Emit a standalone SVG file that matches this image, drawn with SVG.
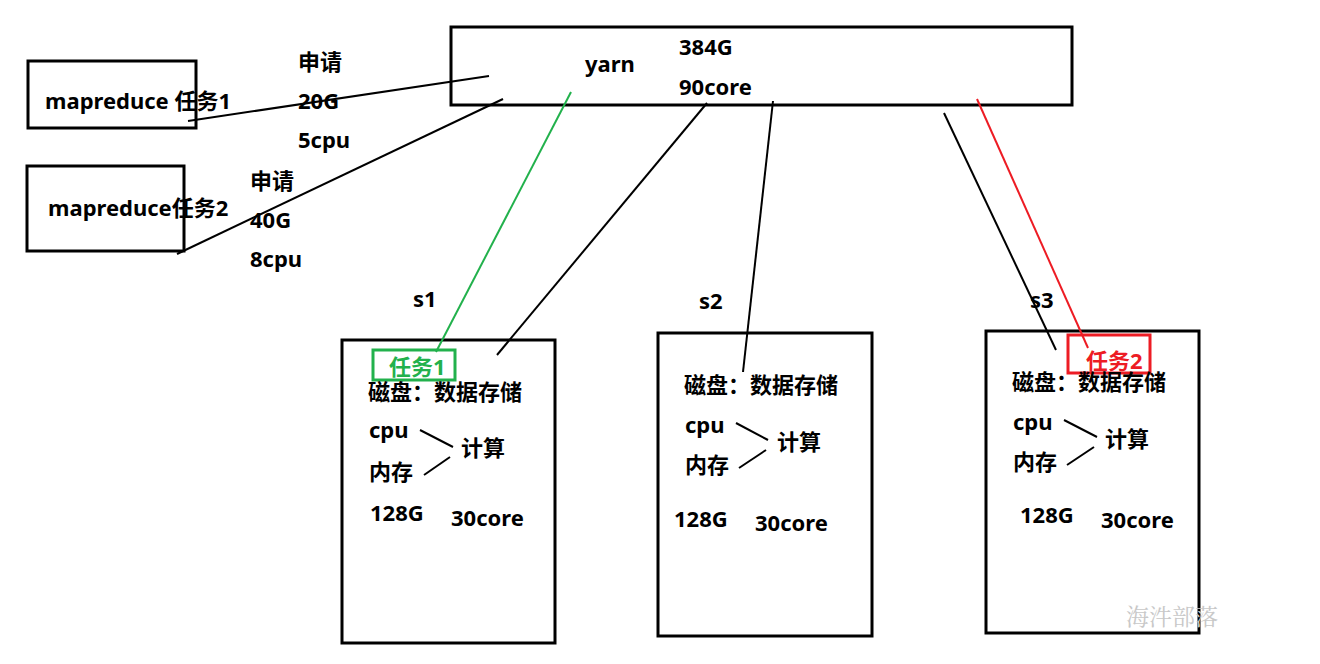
<svg xmlns="http://www.w3.org/2000/svg" width="1320" height="664" viewBox="0 0 1320 664">
<style>
text{font-family:"Noto Sans","Noto Sans CJK SC",sans-serif;font-weight:bold;font-size:22px;fill:#000}
.box{fill:none;stroke:#000;stroke-width:3}
.ln{stroke:#000;stroke-width:2;fill:none}
.g{stroke:#22b14c}
.r{stroke:#ed1c24}
.wm{font-family:"Liberation Serif","Noto Serif CJK SC","Noto Sans CJK SC",serif;font-weight:normal;font-size:23px;fill:#c8c8c8}
</style>
<rect width="1320" height="664" fill="#fff"/>
<g id="task1">
<rect class="box" x="28" y="61" width="168" height="67"/>
<text x="45" y="109">mapreduce 任务1</text>
</g>
<g id="task2">
<rect class="box" x="27" y="166" width="157" height="85"/>
<text x="48" y="216">mapreduce任务2</text>
</g>
<g id="req1">
<text x="298" y="70">申请</text>
<text x="298" y="109">20G</text>
<text x="298" y="148">5cpu</text>
</g>
<g id="req2">
<text x="250" y="189">申请</text>
<text x="250" y="228">40G</text>
<text x="250" y="267">8cpu</text>
</g>
<g id="yarn">
<rect class="box" x="451" y="27" width="621" height="78"/>
<text x="585" y="72">yarn</text>
<text x="679" y="55">384G</text>
<text x="679" y="95">90core</text>
</g>
<g id="s1">
<text x="413" y="307">s1</text>
<rect class="box" x="342" y="340" width="213" height="303"/>
<rect class="box g" x="373" y="350" width="82" height="30" style="stroke:#22b14c"/>
<text x="389" y="375" style="fill:#22b14c">任务1</text>
<text x="368" y="400">磁盘：数据存储</text>
<text x="369" y="438">cpu</text>
<text x="369" y="480">内存</text>
<text x="461" y="456">计算</text>
<line class="ln" x1="420" y1="430" x2="453" y2="447"/>
<line class="ln" x1="424" y1="475" x2="450" y2="457"/>
<text x="370" y="521">128G</text>
<text x="451" y="526">30core</text>
</g>
<g id="s2">
<text x="699" y="309">s2</text>
<rect class="box" x="658" y="333" width="214" height="303"/>
<text x="684" y="393">磁盘：数据存储</text>
<text x="685" y="433">cpu</text>
<text x="685" y="473">内存</text>
<text x="777" y="450">计算</text>
<line class="ln" x1="736" y1="423" x2="768" y2="440"/>
<line class="ln" x1="739" y1="468" x2="766" y2="450"/>
<text x="674" y="527">128G</text>
<text x="755" y="531">30core</text>
</g>
<g id="s3">
<text x="1030" y="308">s3</text>
<rect class="box" x="986" y="331" width="213" height="302"/>
<rect class="box" x="1068" y="335" width="82" height="38" style="stroke:#ed1c24"/>
<text x="1086" y="369" style="fill:#ed1c24">任务2</text>
<text x="1012" y="390">磁盘：数据存储</text>
<text x="1013" y="430">cpu</text>
<text x="1013" y="470">内存</text>
<text x="1105" y="447">计算</text>
<line class="ln" x1="1064" y1="420" x2="1097" y2="437"/>
<line class="ln" x1="1067" y1="465" x2="1094" y2="447"/>
<text x="1020" y="523">128G</text>
<text x="1101" y="528">30core</text>
</g>
<g id="connectors">
<line class="ln" x1="188" y1="121" x2="489" y2="76"/>
<line class="ln" x1="177" y1="254" x2="503" y2="99"/>
<line class="ln" x1="571" y1="92" x2="436" y2="352" style="stroke:#22b14c"/>
<line class="ln" x1="707" y1="103" x2="497" y2="355"/>
<line class="ln" x1="773" y1="101" x2="743" y2="372"/>
<line class="ln" x1="944" y1="113" x2="1056" y2="350"/>
<line class="ln" x1="977" y1="99" x2="1088" y2="348" style="stroke:#ed1c24"/>
</g>
<text class="wm" x="1126" y="625">海汼部落</text>
</svg>
